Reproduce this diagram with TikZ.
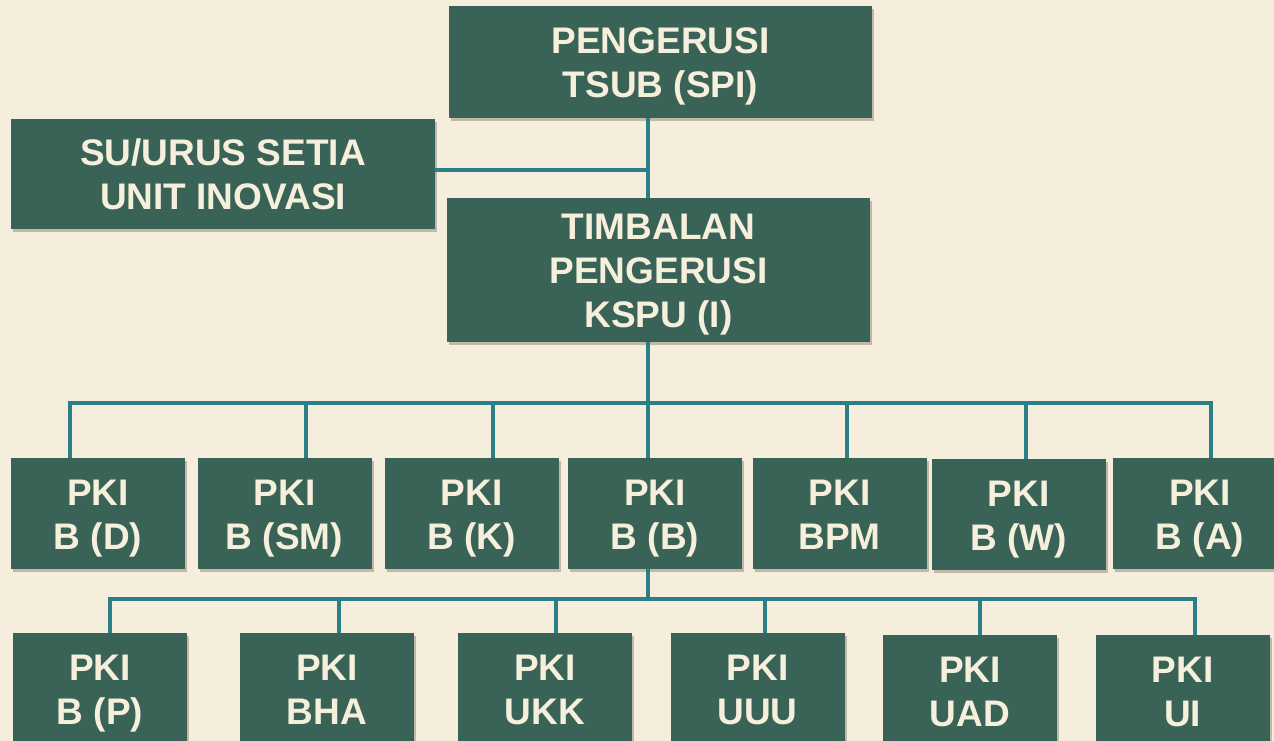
\documentclass[tikz,border=0pt]{standalone}
\usepackage{fontspec}
\setmainfont{Liberation Sans}
\usetikzlibrary{shadows}
\definecolor{bgcream}{HTML}{F5EEDC}
\definecolor{boxgreen}{HTML}{3A6358}
\definecolor{linkteal}{HTML}{2A7F88}
\definecolor{textcream}{HTML}{F5EFDC}
\newcommand{\tophalf}{\rule{0pt}{35pt}}
\newcommand{\lowhalf}{\rule[-8pt]{0pt}{8pt}}

\begin{document}
\begin{tikzpicture}
  [x=1pt, y=-1pt,
   unit/.style={rectangle, fill=boxgreen, text=textcream, align=center,
     font=\fontsize{37}{44}\selectfont\bfseries, inner sep=0pt,
     minimum width=174pt, minimum height=111pt,
     drop shadow={shadow xshift=2pt, shadow yshift=-3pt, fill=black!80!brown, opacity=0.25}},
   link/.style={draw=linkteal, line width=4pt}]
  \fill[bgcream] (0,0) rectangle (1274,741);
  \useasboundingbox (0,0) rectangle (1274,741);
  \coordinate (trunk) at (648,0);

  \node (spi) [unit, minimum width=423pt, minimum height=112pt] at (660.5,62) {\tophalf PENGERUSI\\TSUB (SPI)\lowhalf};
  \node (urus) [unit, minimum width=424pt, minimum height=110pt] at (223,174) {\tophalf SU/URUS SETIA\\UNIT INOVASI\lowhalf};
  \node (kspu) [unit, minimum width=423pt, minimum height=144pt] at (658.5,270) {\tophalf TIMBALAN\\PENGERUSI\\KSPU (I)\lowhalf};

  \foreach \name/\cx/\cy/\lb in {bd/98/513.5/B (D), bsm/284.5/513.5/B (SM), bk/471.5/513.5/B (K),
      bb/655/513.5/B (B), bpm/839.5/513.5/BPM, bw/1018.5/514.5/B (W), ba/1200/513.5/B (A)}
    \node (\name) [unit] at (\cx,\cy) {\tophalf PKI\\\lb\lowhalf};

  \foreach \name/\cx/\cy/\lb in {bp/100/688.5/B (P), bha/327/688.5/BHA, ukk/545/688.5/UKK,
      uuu/757.5/688.5/UUU, uad/970/690.5/UAD, ui/1182.5/690.5/UI}
    \node (\name) [unit] at (\cx,\cy) {\tophalf PKI\\\lb\lowhalf};

  \draw[link] (spi.south -| trunk) -- (kspu.north -| trunk);
  \draw[link] ([yshift=4pt]urus.east) -- ([yshift=4pt]urus.east -| trunk);

  \coordinate (hubA) at (648,403);
  \draw[link] (kspu.south -| trunk) -- (hubA);
  \foreach \name/\dx in {bd/70, bsm/306, bk/493, bb/648, bpm/847, bw/1026, ba/1211}
    \draw[link] (hubA) -| (\dx,0 |- \name.north);

  \coordinate (hubB) at (648,599);
  \draw[link] (bb.south -| trunk) -- (hubB);
  \foreach \name/\dx in {bp/110, bha/339, ukk/556, uuu/765, uad/980, ui/1195}
    \draw[link] (hubB) -| (\dx,0 |- \name.north);
\end{tikzpicture}
\end{document}
